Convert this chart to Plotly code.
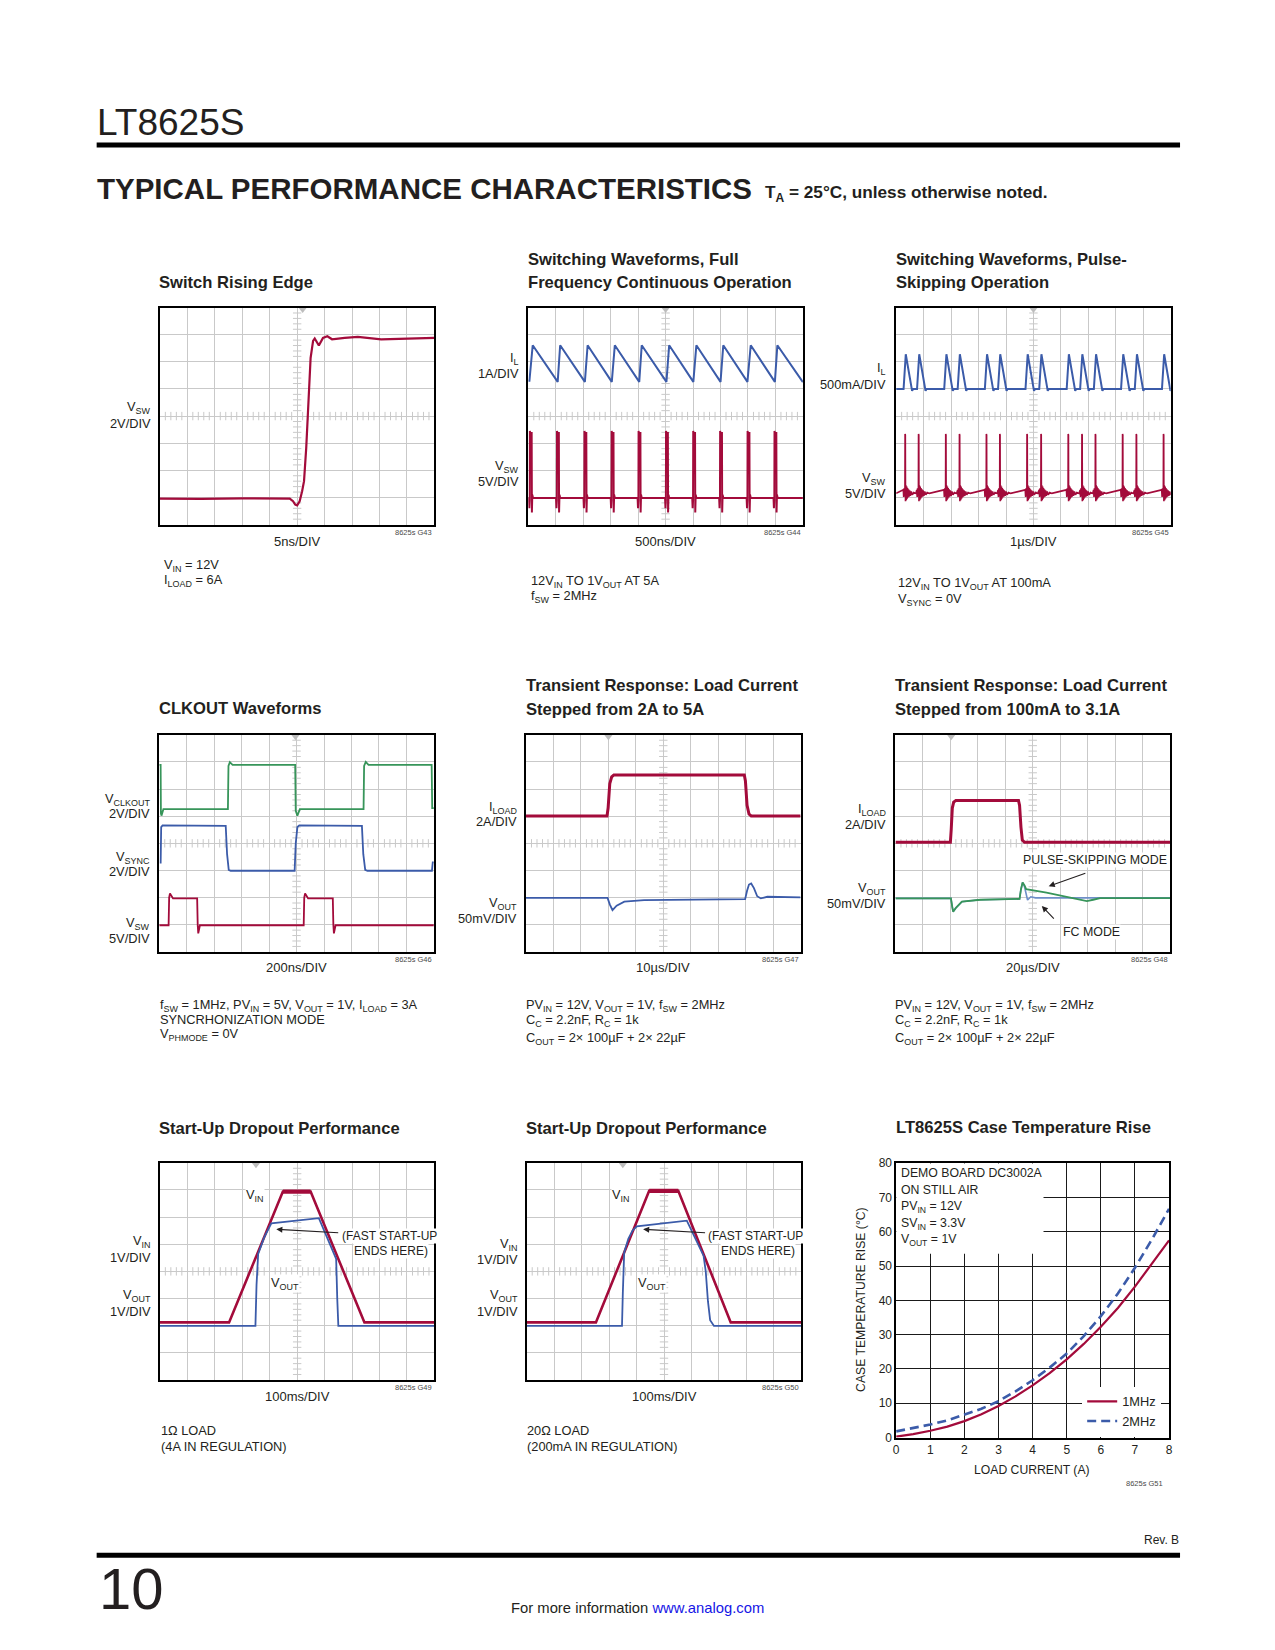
import plotly.graph_objects as go

W, H = 1275, 1650
FONT = "Liberation Sans, Arial, sans-serif"
TXT = "#231F20"
RED = "#A30B3B"
BLUE = "#3B5BA9"
GREEN = "#37955A"
GRID = "#C9C9C9"

# ================= DATA (scope panels: x and y in screen divisions) =================
# Panel 1: Switch Rising Edge
p1_t = [0, 1.5, 3.0, 4.0, 4.73, 4.85, 4.93, 5.0, 5.09, 5.18, 5.25, 5.33, 5.42, 5.49, 5.58, 5.64,
        5.79, 5.94, 6.1, 6.27, 6.73, 7.21, 8.06, 8.67, 9.64, 10]
p1_vsw = [0.96, 0.95, 0.97, 0.96, 0.96, 0.86, 0.74, 0.71, 0.86, 1.23, 1.6, 2.83, 4.68, 6.15, 6.77, 6.86,
          6.6, 6.88, 6.94, 6.83, 6.88, 6.92, 6.83, 6.85, 6.89, 6.88]

# Panel 2: Full frequency continuous operation
p2_il_t = [0, 0.04, 0.16, 1.07, 1.16, 2.06, 2.16, 3.04, 3.15, 4.04, 4.13, 5.03, 5.13, 6.01, 6.12,
           7.0, 7.1, 7.98, 8.1, 8.98, 9.07, 10]
p2_il = [5.3, 5.3, 6.61, 5.26, 6.61, 5.26, 6.61, 5.26, 6.61, 5.26, 6.61, 5.26, 6.61, 5.26, 6.61,
         5.26, 6.61, 5.26, 6.61, 5.26, 6.61, 5.25]
p2_sw_starts = [0.05, 1.04, 2.04, 3.03, 4.01, 5.01, 6.0, 6.98, 7.98, 8.96]
p2_sw_shape_dt = [-0.03, -0.015, 0, 0.006, 0.015, 0.072, 0.08, 0.095, 0.12]
p2_sw_shape_v = [0.98, 0.6, 0.9, 3.45, 3.38, 3.38, 0.45, 1.1, 0.98]
p2_sw_base = 0.98

# Panel 3: Pulse-skipping operation
p3_il_peaks = [0.35, 0.84, 1.83, 2.32, 3.31, 3.79, 4.79, 5.29, 6.29, 6.78, 7.28, 8.27, 8.77, 9.76]
p3_il_shape_dt = [-0.08, 0, 0.2, 0.23, 0.27]
p3_il_shape_v = [5.0, 6.28, 5.0, 4.93, 5.0]
p3_il_base = 5.0
p3_sw_spikes = [0.32, 0.81, 1.80, 2.30, 3.28, 3.77, 4.76, 5.27, 6.26, 6.76, 7.25, 8.24, 8.74, 9.73]
p3_sw_shape_dt = [-0.06, -0.045, -0.03, -0.015, 0, 0.005, 0.014, 0.02, 0.035, 0.05, 0.065, 0.08, 0.095,
                  0.11, 0.13, 0.15, 0.17, 0.2, 0.23, 0.27, 0.32, 0.4]
p3_sw_shape_v = [1.28, 1.02, 1.34, 1.05, 1.25, 3.34, 3.3, 0.86, 1.45, 0.9, 1.4, 0.95, 1.35,
                 1.0, 1.3, 1.03, 1.26, 1.06, 1.22, 1.1, 1.18, 1.15]
p3_sw_base = 1.15

# Panel 4: CLKOUT waveforms
p4_clk_t = [0, 0.05, 0.06, 0.08, 0.15, 2.50, 2.52, 2.57, 2.67, 4.95, 4.97, 5.03, 5.12, 7.44, 7.46, 7.52,
            7.62, 9.92, 9.94, 10]
p4_clk = [6.89, 6.89, 5.1, 5.02, 5.26, 5.26, 6.85, 6.99, 6.89, 6.89, 5.2, 5.02, 5.26, 5.26, 6.85, 7.0,
          6.89, 6.89, 5.3, 5.3]
p4_sync_t = [0.05, 0.07, 0.12, 2.42, 2.47, 2.53, 2.6, 4.93, 4.97, 5.03, 5.1, 7.38, 7.43, 7.5, 7.58,
             9.93, 9.96, 10]
p4_sync = [3.26, 4.6, 4.66, 4.64, 3.6, 3.02, 2.99, 2.99, 4.0, 4.6, 4.66, 4.64, 3.6, 3.02, 2.99,
           2.99, 3.3, 3.3]
p4_sw_t = [0, 0.34, 0.36, 0.39, 0.5, 1.38, 1.40, 1.42, 1.48, 5.26, 5.28, 5.31, 5.42, 6.32, 6.34, 6.36,
           6.42, 10]
p4_sw = [0.98, 0.98, 2.0, 2.15, 1.97, 1.97, 1.0, 0.68, 0.98, 0.98, 2.0, 2.15, 1.97, 1.97, 1.0, 0.68,
         0.98, 0.98]

# Panel 5: Load step 2A -> 5A
p5_il_t = [0, 2.95, 2.99, 3.05, 3.12, 3.2, 5.0, 7.95, 7.99, 8.05, 8.12, 8.2, 10]
p5_il = [5.01, 5.01, 5.3, 6.2, 6.45, 6.52, 6.52, 6.52, 6.3, 5.4, 5.08, 5.01, 5.01]
p5_vo_t = [0, 2.97, 3.05, 3.15, 3.3, 3.58, 4.3, 6.0, 7.98, 8.05, 8.12, 8.2, 8.3, 8.42, 8.55, 8.79, 10]
p5_vo = [1.99, 1.99, 1.75, 1.54, 1.7, 1.85, 1.91, 1.93, 1.94, 2.25, 2.48, 2.52, 2.35, 2.05, 1.97, 2.03, 2.01]

# Panel 6: Load step 100mA -> 3.1A
p6_il_t = [0, 2.0, 2.03, 2.07, 2.12, 2.2, 4.48, 4.52, 4.57, 4.62, 4.7, 10]
p6_il = [4.04, 4.04, 4.5, 5.3, 5.52, 5.58, 5.58, 5.4, 4.6, 4.12, 4.04, 4.04]
p6_fc_t = [0, 2.02, 2.07, 2.1, 2.2, 2.42, 3.09, 4.0, 4.52, 4.57, 4.63, 4.7, 4.81, 4.93, 5.1, 10]
p6_fc = [1.97, 1.97, 1.65, 1.48, 1.62, 1.85, 1.92, 1.94, 1.95, 2.3, 2.56, 2.4, 1.91, 2.03, 1.99, 1.99]
p6_ps_t = [0, 2.02, 2.07, 2.1, 2.2, 2.42, 3.09, 4.0, 4.52, 4.57, 4.63, 4.7, 4.76, 5.5, 6.3, 6.97,
           7.2, 7.45, 10]
p6_ps = [1.97, 1.97, 1.65, 1.48, 1.62, 1.85, 1.92, 1.94, 1.95, 2.3, 2.56, 2.45, 2.31, 2.18, 2.0, 1.87,
         1.92, 1.98, 1.98]

# Panel 7: Start-up dropout, 1 ohm
p7_vin_t = [0, 2.52, 4.48, 5.49, 7.45, 10]
p7_vin = [2.12, 2.12, 6.94, 6.94, 2.12, 2.12]
p7_vo_t = [0, 3.48, 3.52, 3.58, 3.8, 4.06, 5.79, 6.1, 6.42, 6.46, 6.5, 10]
p7_vo = [1.99, 1.99, 3.5, 4.64, 5.25, 5.77, 5.96, 5.25, 4.46, 3.0, 1.99, 1.99]

# Panel 8: Start-up dropout, 20 ohm
p8_vin_t = [0, 2.52, 4.46, 5.52, 7.43, 10]
p8_vin = [2.12, 2.12, 6.97, 6.97, 2.12, 2.12]
p8_vo_t = [0, 3.47, 3.5, 3.55, 3.7, 3.85, 4.01, 5.83, 6.1, 6.44, 6.52, 6.6, 6.68, 6.82, 10]
p8_vo = [1.99, 1.99, 3.2, 4.7, 5.2, 5.5, 5.66, 5.87, 5.3, 4.58, 4.0, 2.9, 2.2, 1.99, 1.99]

# Panel 9: Case temperature rise
p9_load = [0, 0.5, 1, 1.5, 2, 2.5, 3, 3.5, 4, 4.5, 5, 5.5, 6, 6.5, 7, 7.5, 8]
p9_1mhz = [0.3, 1.0, 2.0, 3.2, 4.8, 6.8, 9.2, 12.0, 15.2, 18.8, 22.8, 27.3, 32.3, 37.8, 44.0, 50.6, 57.5]
p9_2mhz = [1.8, 2.7, 3.8, 5.0, 6.6, 8.4, 10.6, 13.5, 16.7, 20.4, 24.5, 29.6, 35.4, 42.0, 49.5, 57.8, 66.7]
p9_xticks = [0, 1, 2, 3, 4, 5, 6, 7, 8]
p9_yticks = [0, 10, 20, 30, 40, 50, 60, 70, 80]

# ================= LAYOUT GEOMETRY (reference pixels) =================
boxes = {
    1: (158.3, 306.7, 275, 216.7),
    2: (527.3, 306.7, 275, 216.7),
    3: (895.7, 306.7, 275, 216.7),
    4: (157.7, 733.3, 275, 216.7),
    5: (525.0, 733.3, 275, 216.7),
    6: (895.0, 733.3, 275, 216.7),
    7: (158.3, 1160.7, 275, 216.7),
    8: (525.7, 1160.7, 275, 216.7),
    9: (895.7, 1161.0, 273.3, 274.0),
}
trigger_pos = {1: 5.2, 2: 5.0, 3: 5.0, 4: 4.96, 5: 3.0, 6: 2.03, 7: 3.5, 8: 3.5}


# page placement calibration (reference pixel -> figure pixel)
def X(px):
    return (px - 1.2) / 0.996


def Y(py):
    return (py - 6.6) / 0.990


def build_pulses(starts, dts, vs, base, t_end=10):
    xs, ys = [0], [base]
    for s in starts:
        for dt, v in zip(dts, vs):
            xs.append(s + dt)
            ys.append(v)
    xs.append(t_end)
    ys.append(base)
    return xs, ys


def ax_ids(i):
    return ("x", "y") if i == 1 else (f"x{i}", f"y{i}")


fig = go.Figure()
layout = {}

for i, (l, t, w, h) in boxes.items():
    xk = "xaxis" if i == 1 else f"xaxis{i}"
    yk = "yaxis" if i == 1 else f"yaxis{i}"
    xr, yr = ax_ids(i)
    dom_x = [X(l) / W, X(l + w) / W]
    dom_y = [1 - Y(t + h) / H, 1 - Y(t) / H]
    if i < 9:
        common = dict(showgrid=True, gridcolor=GRID, gridwidth=1, zeroline=False, showticklabels=False,
                      ticks="", showline=True, linecolor="black", linewidth=2, mirror=True, fixedrange=True)
        layout[xk] = dict(domain=dom_x, range=[0, 10], dtick=1, tick0=0, anchor=yr, **common)
        layout[yk] = dict(domain=dom_y, range=[0, 8], dtick=1, tick0=0, anchor=xr, **common)
    else:
        common = dict(showgrid=True, gridcolor="#1a1a1a", gridwidth=1, zeroline=False, ticks="",
                      showline=True, linecolor="black", linewidth=1.5, mirror=True, fixedrange=True,
                      tickfont=dict(family=FONT, size=12, color=TXT))
        layout[xk] = dict(domain=dom_x, range=[0, 8], tickvals=p9_xticks, anchor=yr, **common)
        layout[yk] = dict(domain=dom_y, range=[0, 80], tickvals=p9_yticks, anchor=xr, **common)

# scope decorations: center-line minor ticks and trigger marker
hx = [k * 0.2 for k in range(51) if k % 5]
vy = [k * 0.2 for k in range(41) if k % 5]
for i in range(1, 9):
    xr, yr = ax_ids(i)
    fig.add_trace(go.Scatter(x=hx, y=[4] * len(hx), mode="markers", xaxis=xr, yaxis=yr,
                             marker=dict(symbol="line-ns", size=6, line=dict(color=GRID, width=1)),
                             hoverinfo="skip", showlegend=False))
    fig.add_trace(go.Scatter(x=[5] * len(vy), y=vy, mode="markers", xaxis=xr, yaxis=yr,
                             marker=dict(symbol="line-ew", size=6, line=dict(color=GRID, width=1)),
                             hoverinfo="skip", showlegend=False))
    fig.add_trace(go.Scatter(x=[trigger_pos[i]], y=[7.93], mode="markers", xaxis=xr, yaxis=yr,
                             marker=dict(symbol="triangle-down", size=7, color="#BDBDBD"),
                             hoverinfo="skip", showlegend=False, cliponaxis=False))


def line(i, x, y, color, width=2.0, dash=None, name=None, legend=False):
    xr, yr = ax_ids(i)
    fig.add_trace(go.Scatter(x=x, y=y, mode="lines", xaxis=xr, yaxis=yr, name=name,
                             line=dict(color=color, width=width, dash=dash),
                             hoverinfo="skip", showlegend=legend))


def chan_mark(i, y, color):
    xr, yr = ax_ids(i)
    fig.add_trace(go.Scatter(x=[-0.12], y=[y], mode="markers", xaxis=xr, yaxis=yr,
                             marker=dict(symbol="line-ew", size=7, line=dict(color=color, width=1.5)),
                             hoverinfo="skip", showlegend=False, cliponaxis=False))


# Panel 1
line(1, p1_t, p1_vsw, RED, 2.2)
chan_mark(1, 0.98, RED)
# Panel 2
line(2, p2_il_t, p2_il, BLUE, 2.0)
x2, y2 = build_pulses(p2_sw_starts, p2_sw_shape_dt, p2_sw_shape_v, p2_sw_base)
line(2, x2, y2, RED, 2.0)
chan_mark(2, 0.98, BLUE)
# Panel 3
x3, y3 = build_pulses(p3_il_peaks, p3_il_shape_dt, p3_il_shape_v, p3_il_base)
line(3, x3, y3, BLUE, 2.0)
x3s, y3s = build_pulses(p3_sw_spikes, p3_sw_shape_dt, p3_sw_shape_v, p3_sw_base)
line(3, x3s, y3s, RED, 1.6)
chan_mark(3, 5.3, BLUE)
chan_mark(3, 0.92, RED)
# Panel 4
line(4, p4_clk_t, p4_clk, GREEN, 1.8)
line(4, p4_sync_t, p4_sync, BLUE, 1.8)
line(4, p4_sw_t, p4_sw, RED, 1.8)
chan_mark(4, 5.26, GREEN)
chan_mark(4, 2.99, BLUE)
chan_mark(4, 0.98, RED)
# Panel 5
line(5, p5_il_t, p5_il, RED, 3.0)
line(5, p5_vo_t, p5_vo, BLUE, 1.8)
# Panel 6
line(6, p6_il_t, p6_il, RED, 3.0)
line(6, p6_fc_t, p6_fc, "#6F8FC8", 1.6)
line(6, p6_ps_t, p6_ps, GREEN, 1.8)
# Panel 7
line(7, p7_vin_t, p7_vin, RED, 2.6)
line(7, p7_vin_t[2:4], p7_vin[2:4], RED, 4.2)
line(7, p7_vo_t, p7_vo, BLUE, 1.8)
chan_mark(7, 1.99, BLUE)
# Panel 8
line(8, p8_vin_t, p8_vin, RED, 2.6)
line(8, p8_vin_t[2:4], p8_vin[2:4], RED, 4.2)
line(8, p8_vo_t, p8_vo, BLUE, 1.8)
chan_mark(8, 1.99, BLUE)
# Panel 9
line(9, p9_load, p9_1mhz, RED, 2.2, name="1MHz", legend=True)
line(9, p9_load, p9_2mhz, BLUE, 2.6, dash="9px,5px", name="2MHz", legend=True)

# ================= TEXT =================
def ann(text, x, y, size=13, xanchor="left", yanchor="middle", color=TXT, **kw):
    fig.add_annotation(text=text, x=X(x) / W, y=1 - Y(y) / H, xref="paper", yref="paper", showarrow=False,
                       xanchor=xanchor, yanchor=yanchor, font=dict(family=FONT, size=size, color=color),
                       borderpad=0, **kw)


def pann(i, text, x, y, size=12.5, xanchor="center", bg="white"):
    xr, yr = ax_ids(i)
    fig.add_annotation(text=text, x=x, y=y, xref=xr, yref=yr, showarrow=False, xanchor=xanchor,
                       yanchor="middle", font=dict(family=FONT, size=size, color=TXT), bgcolor=bg,
                       borderpad=0)


def arrow(i, tail, head):
    xr, yr = ax_ids(i)
    fig.add_annotation(text="", x=head[0], y=head[1], ax=tail[0], ay=tail[1], xref=xr, yref=yr,
                       axref=xr, ayref=yr, showarrow=True, arrowhead=2, arrowsize=1.1, arrowwidth=1.1,
                       arrowcolor=TXT, standoff=0, startstandoff=0)


# header / footer
ann("LT8625S", 94, 122, size=37)
ann("<b>TYPICAL PERFORMANCE CHARACTERISTICS</b>", 94, 188, size=29.5)
ann("<b>T<sub>A</sub> = 25°C, unless otherwise noted.</b>", 763, 193, size=17.2)
ann("10", 96, 1586, size=58)
ann("Rev. B", 1180, 1537, size=12, xanchor="right")
ann("For more information <span style='color:#1515E6'>www.analog.com</span>", 637, 1605, size=14.8,
    xanchor="center")

# titles
titles = {
    1: ["Switch Rising Edge"],
    2: ["Switching Waveforms, Full", "Frequency Continuous Operation"],
    3: ["Switching Waveforms, Pulse-", "Skipping Operation"],
    4: ["CLKOUT Waveforms"],
    5: ["Transient Response: Load Current", "Stepped from 2A to 5A"],
    6: ["Transient Response: Load Current", "Stepped from 100mA to 3.1A"],
    7: ["Start-Up Dropout Performance"],
    8: ["Start-Up Dropout Performance"],
    9: ["LT8625S Case Temperature Rise"],
}
title_last_y = {1: 282, 2: 282, 3: 282, 4: 707, 5: 708, 6: 708, 7: 1126, 8: 1126, 9: 1125}
for i, lines in titles.items():
    l = boxes[i][0] - 1.5
    for k, s in enumerate(reversed(lines)):
        ann(f"<b>{s}</b>", l, title_last_y[i] - 23.5 * k, size=16.6)

# x division labels and figure codes
xdiv = {1: "5ns/DIV", 2: "500ns/DIV", 3: "1µs/DIV", 4: "200ns/DIV", 5: "10µs/DIV", 6: "20µs/DIV",
        7: "100ms/DIV", 8: "100ms/DIV"}
xdiv_y = {1: 540, 2: 540, 3: 540, 4: 966, 5: 966, 6: 966, 7: 1394, 8: 1394}
code_y = {1: 531, 2: 531, 3: 531, 4: 958, 5: 958, 6: 958, 7: 1385, 8: 1385}
for i in range(1, 9):
    l, t, w, h = boxes[i]
    ann(xdiv[i], l + w / 2, xdiv_y[i], size=13, xanchor="center")
    ann(f"8625s G{42 + i}", l + w - 1, code_y[i], size=7.5, xanchor="right", color="#4a4a4a")
ann("8625s G51", 1164, 1481, size=7.5, xanchor="right", color="#4a4a4a")

# channel labels (right edge x, y of each line)
chan_labels = [
    (150.5, 406, "V<sub>SW</sub>"), (150.5, 422, "2V/DIV"),
    (519, 358, "I<sub>L</sub>"), (519, 373, "1A/DIV"),
    (519, 465, "V<sub>SW</sub>"), (519, 480, "5V/DIV"),
    (887, 368, "I<sub>L</sub>"), (887, 384, "500mA/DIV"),
    (887, 477, "V<sub>SW</sub>"), (887, 492, "5V/DIV"),
    (149.4, 798, "V<sub>CLKOUT</sub>"), (149.4, 812, "2V/DIV"),
    (149.4, 856, "V<sub>SYNC</sub>"), (149.4, 870, "2V/DIV"),
    (149.4, 922, "V<sub>SW</sub>"), (149.4, 937, "5V/DIV"),
    (516.5, 806, "I<sub>LOAD</sub>"), (516.5, 820, "2A/DIV"),
    (516.5, 902, "V<sub>OUT</sub>"), (516.5, 917, "50mV/DIV"),
    (887, 808, "I<sub>LOAD</sub>"), (887, 823, "2A/DIV"),
    (887, 887, "V<sub>OUT</sub>"), (887, 902, "50mV/DIV"),
    (150.5, 1239, "V<sub>IN</sub>"), (150.5, 1255, "1V/DIV"),
    (150.5, 1293, "V<sub>OUT</sub>"), (150.5, 1309, "1V/DIV"),
    (517.6, 1242, "V<sub>IN</sub>"), (517.6, 1257, "1V/DIV"),
    (517.6, 1293, "V<sub>OUT</sub>"), (517.6, 1309, "1V/DIV"),
]
for x, y, s in chan_labels:
    ann(s, x, y, size=12.8, xanchor="right")

# condition notes
notes = [
    (161, 564, "V<sub>IN</sub> = 12V"), (161, 579, "I<sub>LOAD</sub> = 6A"),
    (529, 580, "12V<sub>IN</sub> TO 1V<sub>OUT</sub> AT 5A"), (529, 595, "f<sub>SW</sub> = 2MHz"),
    (897, 582, "12V<sub>IN</sub> TO 1V<sub>OUT</sub> AT 100mA"), (897, 598, "V<sub>SYNC</sub> = 0V"),
    (157, 1004, "f<sub>SW</sub> = 1MHz, PV<sub>IN</sub> = 5V, V<sub>OUT</sub> = 1V, I<sub>LOAD</sub> = 3A"),
    (157, 1018, "SYNCRHONIZATION MODE"), (157, 1033, "V<sub>PHMODE</sub> = 0V"),
    (524, 1004, "PV<sub>IN</sub> = 12V, V<sub>OUT</sub> = 1V, f<sub>SW</sub> = 2MHz"),
    (524, 1019, "C<sub>C</sub> = 2.2nF, R<sub>C</sub> = 1k"),
    (524, 1037, "C<sub>OUT</sub> = 2× 100µF + 2× 22µF"),
    (894, 1004, "PV<sub>IN</sub> = 12V, V<sub>OUT</sub> = 1V, f<sub>SW</sub> = 2MHz"),
    (894, 1019, "C<sub>C</sub> = 2.2nF, R<sub>C</sub> = 1k"),
    (894, 1037, "C<sub>OUT</sub> = 2× 100µF + 2× 22µF"),
    (158, 1428, "1Ω LOAD"), (158, 1444, "(4A IN REGULATION)"),
    (525, 1428, "20Ω LOAD"), (525, 1444, "(200mA IN REGULATION)"),
]
for x, y, s in notes:
    ann(s, x, y, size=12.8)

# in-plot labels
pann(6, "PULSE-SKIPPING MODE", 4.6, 3.38, size=12.4, xanchor="left")
arrow(6, (6.97, 2.92), (5.58, 2.42))
pann(6, "FC MODE", 6.06, 0.74, size=12.4, xanchor="left")
arrow(6, (5.82, 1.17), (5.33, 1.69))
for i in (7, 8):
    pann(i, "V<sub>IN</sub>", 3.45, 6.8, size=12.8)
    pann(i, "V<sub>OUT</sub>", 4.57, 3.57, size=12.8)
    pann(i, "(FAST START-UP", 6.58, 5.32, size=12, xanchor="left")
    pann(i, "ENDS HERE)", 7.05, 4.76, size=12, xanchor="left")
    arrow(i, (6.55, 5.42), (4.24, 5.55))

# panel 9 texts
p9_box_lines = ["DEMO BOARD DC3002A", "ON STILL AIR", "PV<sub>IN</sub> = 12V", "SV<sub>IN</sub> = 3.3V",
                "V<sub>OUT</sub> = 1V"]
for k, s in enumerate(p9_box_lines):
    ann(s, 899.5, 1171 + 16.8 * k, size=12.3)
ann("LOAD CURRENT (A)", 1032, 1467, size=12.2, xanchor="center")
ann("CASE TEMPERATURE RISE (°C)", 861, 1297, size=12.2, xanchor="center", textangle=-90)


def prect(x0, x1, y0, y1):
    return dict(type="rect", xref="paper", yref="paper", x0=X(x0) / W, x1=X(x1) / W,
                y0=1 - Y(y1) / H, y1=1 - Y(y0) / H, fillcolor="black", line=dict(width=0))


shapes = [
    prect(95, 1180, 142, 147),
    prect(95, 1180, 1550, 1555),
    dict(type="rect", xref="x9", yref="y9", x0=0, x1=4.32, y0=53.6, y1=80, fillcolor="white",
         line=dict(width=0), layer="between"),
]

fig.update_layout(
    width=W, height=H, margin=dict(l=0, r=0, t=0, b=0), paper_bgcolor="white", plot_bgcolor="white",
    showlegend=True, hovermode=False, shapes=shapes,
    legend=dict(x=X(1082) / W, y=1 - Y(1384) / H, xanchor="left", yanchor="top", bgcolor="white",
                font=dict(family=FONT, size=12.8, color=TXT), tracegroupgap=0, itemwidth=30,
                borderwidth=0),
    **layout,
)

fig.write_html(
    "out.html",
    config={"displayModeBar": False},
    post_script=("document.body.style.margin='0px';"
                 "document.documentElement.style.overflow='hidden';"
                 "document.body.style.overflow='hidden';"),
)
